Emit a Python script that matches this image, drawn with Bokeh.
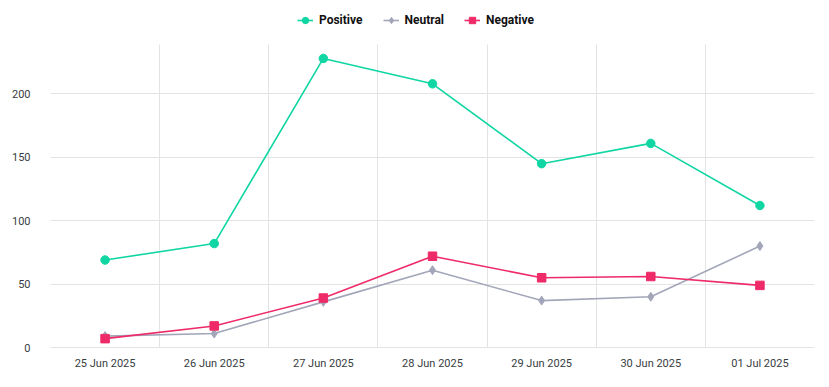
from bokeh.plotting import figure
from bokeh.models import FixedTicker, Legend, LegendItem, Range1d, ColumnDataSource, BoxAnnotation
from bokeh.embed import file_html
from bokeh.resources import INLINE

categories = ["25 Jun 2025", "26 Jun 2025", "27 Jun 2025", "28 Jun 2025",
              "29 Jun 2025", "30 Jun 2025", "01 Jul 2025"]
positive = [69, 82, 228, 208, 145, 161, 112]
neutral = [9, 11, 36, 61, 37, 40, 80]
negative = [7, 17, 39, 72, 55, 56, 49]
y_ticks = [0, 50, 100, 150, 200]
y_max = 239

xs = [i + 0.5 for i in range(len(categories))]

TEXT = "#373d3f"
GRID = "#e3e3e3"
FONT = "Roboto"

W, H = 829, 387
B_LEFT, B_RIGHT, B_BOTTOM = 50, 15, 40
HEADER = 44  # space above the chart area reserved for the legend
frame_h = H - B_BOTTOM
y_top = y_max * frame_h / (frame_h - HEADER)

p = figure(width=W, height=H, output_backend="svg", toolbar_location=None,
           title=None,
           x_range=Range1d(0, len(categories)), y_range=Range1d(0, y_top),
           min_border_left=B_LEFT, min_border_right=B_RIGHT, min_border_top=0,
           min_border_bottom=B_BOTTOM)
p.outline_line_color = None
p.background_fill_color = "white"

p.xaxis.ticker = FixedTicker(ticks=xs)
p.xaxis.major_label_overrides = {x: c for x, c in zip(xs, categories)}
p.xaxis.major_tick_line_color = None
p.xaxis.minor_tick_line_color = None
p.xaxis.axis_line_color = GRID
p.xaxis.major_label_text_font = FONT
p.xaxis.major_label_text_font_size = "11px"
p.xaxis.major_label_text_color = TEXT
p.xaxis.major_label_standoff = 3

p.yaxis.ticker = FixedTicker(ticks=y_ticks)
p.yaxis.major_tick_line_color = None
p.yaxis.minor_tick_line_color = None
p.yaxis.axis_line_color = None
p.yaxis.major_label_text_font = FONT
p.yaxis.major_label_text_font_size = "11px"
p.yaxis.major_label_text_color = TEXT
p.yaxis.major_label_standoff = 14

p.xgrid.ticker = FixedTicker(ticks=list(range(len(categories) + 1)))
p.xgrid.grid_line_color = GRID
p.ygrid.ticker = FixedTicker(ticks=y_ticks[1:])
p.ygrid.grid_line_color = GRID

# white cover so grid lines stop at the top of the chart area
p.add_layout(BoxAnnotation(bottom=y_max, fill_color="white", fill_alpha=1,
                           line_color=None, level="underlay"))

series = [
    ("Positive", positive, "#0fd6a3", "circle", 8.5),
    ("Neutral", neutral, "#a3a6b9", "diamond", 9),
    ("Negative", negative, "#ee2a68", "square", 8.5),
]
items = []
for name, vals, color, marker, size in series:
    src = ColumnDataSource(dict(x=xs, y=vals))
    l = p.line("x", "y", source=src, line_color=color, line_width=1.6)
    s = p.scatter("x", "y", source=src, marker=marker, size=size,
                  fill_color=color, line_color=color)
    items.append(LegendItem(label=name, renderers=[l, s]))

legend = Legend(items=items, orientation="horizontal", location=(247, frame_h - 30),
                label_text_font=FONT, label_text_font_size="12px",
                label_text_font_style="bold", label_text_color="#111111",
                glyph_width=16, glyph_height=20, label_standoff=6, spacing=20,
                padding=0, margin=0, border_line_color=None,
                background_fill_alpha=0)
p.add_layout(legend, "center")

open("out.html", "w").write(file_html(p, INLINE))
